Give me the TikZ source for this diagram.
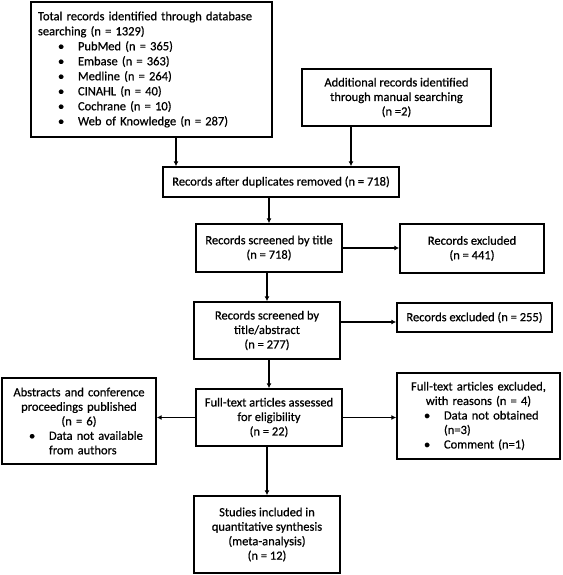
\documentclass[tikz,border=0pt]{standalone}
\usepackage{fontspec}
\setmainfont{Carlito}[FakeBold=0.6]
\usetikzlibrary{arrows.meta,calc}
\tikzset{
  box/.style={draw, line width=1.4pt, inner sep=0pt, align=center,
    font=\fontsize{12.5}{14.5}\selectfont},
  lbox/.style={box, align=left},
  arr/.style={line width=1.4pt, -{Latex[length=5pt,width=5pt]}}
}
\newcommand\bitem[1]{\hspace*{27pt}\makebox[20pt][l]{\textbullet}#1}
\newcommand\cln[1]{\makebox[\linewidth][c]{#1}}
\begin{document}
\begin{tikzpicture}[x=1pt,y=-1pt]
\useasboundingbox (0,0) rectangle (562,575);
\fill[white] (0,0) rectangle (562,575);

\node[lbox, text width=241pt, minimum height=135pt,
  font=\fontsize{12.5}{15}\selectfont] (b1) at (151.5,69.5) {%
  \hspace*{7pt}Total records identified through database\\
  \hspace*{7pt}searching (n = 1329)\\
  \bitem{PubMed (n = 365)}\\
  \bitem{Embase (n = 363)}\\
  \bitem{Medline (n = 264)}\\
  \bitem{CINAHL (n = 40)}\\
  \bitem{Cochrane (n = 10)}\\
  \bitem{Web of Knowledge (n = 287)}};

\node[box, minimum width=189pt, minimum height=57pt] (b2) at (396.5,97.5)
  {Additional records identified\\ through manual searching\\ (n =2)};

\node[box, minimum width=236pt, minimum height=30pt] (b3) at (281,182)
  {Records after duplicates removed (n = 718)};

\node[box, minimum width=146pt, minimum height=48pt] (b4) at (269,248)
  {Records screened by title\\ (n = 718)};

\node[box, minimum width=144pt, minimum height=49pt] (b5) at (472,248.5)
  {Records excluded\\ (n = 441)};

\node[box, minimum width=146pt, minimum height=57pt] (b6) at (267,330.5)
  {Records screened by\\ title/abstract\\ (n = 277)};

\node[box, minimum width=155pt, minimum height=29pt] (b7) at (474.5,317.5)
  {Records excluded (n = 255)};

\node[box, minimum width=146pt, minimum height=57pt] (b8) at (269,417.5)
  {Full-text articles assessed\\ for eligibility\\ (n = 22)};

\node[lbox, text width=154pt, minimum height=86pt] (b9) at (79,421) {%
  \cln{Abstracts and conference}\\
  \cln{proceedings published}\\
  \cln{(n = 6)}\\
  \bitem{Data not available}\\
  \hspace*{47pt}from authors};

\node[lbox, text width=163pt, minimum height=86pt] (b10) at (478.5,416) {%
  \cln{Full-text articles excluded,}\\
  \cln{with reasons (n = 4)}\\
  \bitem{Data not obtained}\\
  \hspace*{47pt}(n=3)\\
  \bitem{Comment (n=1)}};

\node[box, minimum width=146pt, minimum height=77pt] (b11) at (267,534.5)
  {Studies included in\\ quantitative synthesis\\ (meta-analysis)\\ (n = 12)};

% connectors
\draw[arr] (b1.south) ++(24.5,0) coordinate (c1) -- (c1 |- b3.north);
\draw[arr] (b2.south) ++(-45.5,0) coordinate (c2) -- (c2 |- b3.north);
\draw[arr] (b4.north |- b3.south) -- (b4.north);
\draw[arr] (b4.east) -- (b5.west |- b4.east);
\draw[arr] (b6.north |- b4.south) -- (b6.north);
\coordinate (c3) at ($(b7.west)+(0,4.5)$);
\draw[arr] (b6.east |- c3) -- (c3);
\draw[arr] (b8.north |- b6.south) -- (b8.north);
\draw[arr] (b8.west) -- (b9.east |- b8.west);
\draw[arr] (b8.east) -- (b10.west |- b8.east);
\draw[arr] (b11.north |- b8.south) -- (b11.north);
\end{tikzpicture}
\end{document}
